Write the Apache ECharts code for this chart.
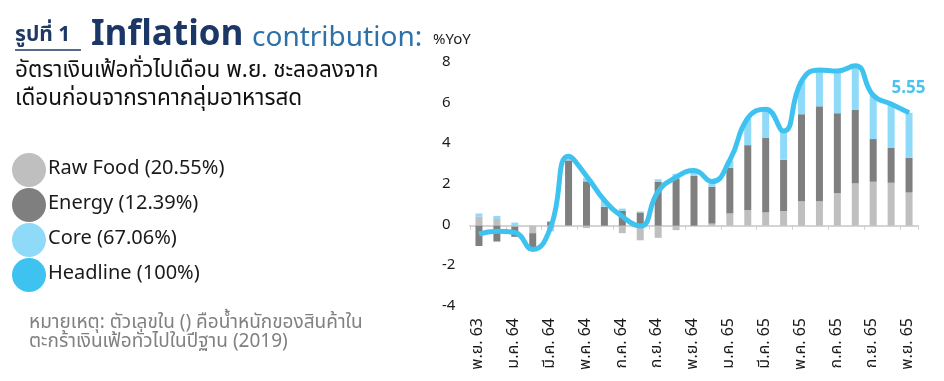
<!DOCTYPE html>
<html>
<head>
<meta charset="utf-8">
<script src="https://cdn.jsdelivr.net/npm/echarts@6/dist/echarts.min.js"></script>
<style>
html,body{margin:0;padding:0;background:#fff;}
#c{width:944px;height:381px;}
</style>
</head>
<body>
<div id="c"></div>
<script>
var categories = ['พ.ย. 63','ธ.ค. 63','ม.ค. 64','ก.พ. 64','มี.ค. 64','เม.ย. 64','พ.ค. 64','มิ.ย. 64','ก.ค. 64','ส.ค. 64','ก.ย. 64','ต.ค. 64','พ.ย. 64','ธ.ค. 64','ม.ค. 65','ก.พ. 65','มี.ค. 65','เม.ย. 65','พ.ค. 65','มิ.ย. 65','ก.ค. 65','ส.ค. 65','ก.ย. 65','ต.ค. 65','พ.ย. 65'];
var rawFood = [0.45,0.33,-0.05,-0.37,-0.15,0.01,-0.12,0,-0.37,-0.72,-0.6,-0.22,0,0.1,0.6,0.76,0.65,0.72,1.2,1.2,1.6,2.08,2.16,2.11,1.63];
var energy  = [-1.0,-0.78,-0.5,-0.73,0.2,3.2,2.18,0.93,0.72,0.65,2.15,2.3,2.45,1.82,2.25,3.2,3.66,2.52,4.28,4.67,3.93,3.61,2.1,1.71,1.71];
var core    = [0.15,0.15,0.15,-0.07,-0.13,0.2,0.16,0.3,0.12,0.05,0.13,0.25,0.26,0.25,0.35,1.3,1.42,1.41,1.62,1.79,2.08,2.17,2.15,2.16,2.21];
var headline = [-0.41,-0.27,-0.34,-1.17,-0.08,3.41,2.44,1.25,0.45,-0.02,1.68,2.38,2.71,2.17,3.23,5.28,5.73,4.65,7.10,7.66,7.61,7.86,6.41,5.98,5.55];
var seriesNames = ['Raw Food (20.55%)','Energy (12.39%)','Core (67.06%)','Headline (100%)'];
var yTicks = {min:-4, max:8, interval:2};

var FONT = '"Noto Sans Thai","Noto Sans","Liberation Sans",sans-serif';
var chart = echarts.init(document.getElementById('c'));
var last = headline.length - 1;
var lineData = headline.map(function(v,i){
  return i===last ? {value:v, symbol:'circle', symbolSize:1, label:{show:true}} : v;
});
var option = {
  animation:false,
  textStyle:{fontFamily:FONT},
  grid:{left:470, right:26, top:63, bottom:74},
  legend:{
    orient:'vertical', left:12, top:153, icon:'circle', padding:0,
    itemWidth:34, itemHeight:34, itemGap:1,
    textStyle:{fontSize:20, color:'#1a1a1a', fontFamily:FONT, padding:[0,0,0,-3]},
    data:seriesNames
  },
  xAxis:[{
    type:'category', data:categories, boundaryGap:true,
    axisLine:{onZero:true, lineStyle:{color:'#d4d4d4', width:2}},
    axisTick:{show:true, interval:1, length:4, lineStyle:{color:'#cfcfcf'}},
    axisLabel:{show:false}
  },{
    type:'category', data:categories, boundaryGap:true, position:'bottom',
    axisLine:{show:false, onZero:false}, axisTick:{show:false},
    axisLabel:{interval:1, rotate:90, margin:11, fontSize:16, color:'#1a1a1a', fontFamily:FONT}
  }],
  yAxis:{
    type:'value', min:yTicks.min, max:yTicks.max, interval:yTicks.interval,
    splitLine:{show:false}, axisLine:{show:false}, axisTick:{show:false},
    axisLabel:{align:'left', margin:28, fontSize:15, color:'#1a1a1a', fontFamily:FONT}
  },
  series:[
    {name:seriesNames[0], type:'bar', stack:'c', data:rawFood, barWidth:7, itemStyle:{color:'#bfbfbf'}},
    {name:seriesNames[1], type:'bar', stack:'c', data:energy, barWidth:7, itemStyle:{color:'#7f7f7f'}},
    {name:seriesNames[2], type:'bar', stack:'c', data:core, barWidth:7, itemStyle:{color:'#8fdaf8'}},
    {name:seriesNames[3], type:'line', data:lineData, smooth:0.5, symbol:'none', z:5,
      lineStyle:{color:'#3ec3f0', width:5}, itemStyle:{color:'#3ec3f0'},
      label:{show:false, position:[0,-23], align:'center', verticalAlign:'middle', fontSize:17, fontWeight:'bold', color:'#4cc3ee', fontFamily:FONT,
        formatter:function(p){return Number(p.value).toFixed(2);}}
    }
  ],
  graphic:[
    {type:'text', left:15, top:26, style:{text:'รูปที่ 1', font:'bold 21px '+FONT, fill:'#1f3864'}},
    {type:'line', shape:{x1:15,y1:50,x2:81,y2:50}, style:{stroke:'#1f3864', lineWidth:1.5}},
    {type:'text', left:91, top:20, style:{text:'Inflation', font:'bold 35px '+FONT, fill:'#1b3766'}},
    {type:'text', left:252, top:26, style:{text:'contribution:', font:'28px '+FONT, fill:'#2e70a8'}},
    {type:'text', left:433, top:33, style:{text:'%YoY', font:'15px '+FONT, fill:'#1a1a1a'}},
    {type:'text', left:15, top:61, style:{text:'อัตราเงินเฟ้อทั่วไปเดือน พ.ย. ชะลอลงจาก', font:'22.5px '+FONT, fill:'#111'}},
    {type:'text', left:15, top:89, style:{text:'เดือนก่อนจากราคากลุ่มอาหารสด', font:'22.5px '+FONT, fill:'#111'}},
    {type:'text', left:29, top:315, style:{text:'หมายเหตุ: ตัวเลขใน () คือน้ำหนักของสินค้าใน', font:'19px '+FONT, fill:'#808080'}},
    {type:'text', left:29, top:334, style:{text:'ตะกร้าเงินเฟ้อทั่วไปในปีฐาน (2019)', font:'19px '+FONT, fill:'#808080'}}
  ]
};
chart.setOption(option);
</script>
</body>
</html>
